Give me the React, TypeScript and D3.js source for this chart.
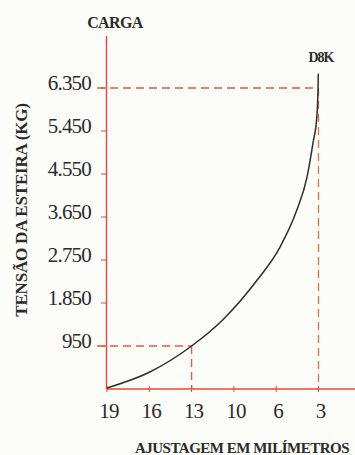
import React from "react";
import * as d3 from "d3";

const categories = ["19", "16", "13", "10", "6", "3"];
const yTicks = [950, 1850, 2750, 3650, 4550, 5450, 6350];
const yTickLabels = ["950", "1.850", "2.750", "3.650", "4.550", "5.450", "6.350"];
// curve: position (index along categories), load in kg
const curveIdx = [0, 1, 2, 2.74, 3.55, 4.09, 4.49, 4.73, 4.87, 4.96, 4.99, 4.995];
const curveVal = [70, 400, 950, 1500, 2330, 3020, 3800, 4490, 5200, 5740, 6370, 6650];
const markers = [
  { cat: "13", value: 950 },
  { cat: "3", value: 6350 },
];

const W = 355;
const H = 455;
const red = "#e8463e";
const dashRed = "#e8583c";
const textCol = "#2b2b2b";
const serif = "Liberation Serif, DejaVu Serif, serif";

export default function App() {
  React.useEffect(() => {
    document.body.style.margin = "0";
  }, []);
  const x0 = 106.5;
  const baseY = 389;
  const idx = d3.scaleLinear().domain([0, categories.length - 1]).range([107, 318.5]);
  const xPos = (c: string) => idx(categories.indexOf(c));
  const y = d3.scaleLinear().domain([50, 6350]).range([baseY, 88]);
  const line = d3
    .line<number>()
    .x((_, i) => idx(curveIdx[i]))
    .y((d) => y(d))
    .curve(d3.curveMonotoneX);

  return (
    <svg width={W} height={H} style={{ position: "absolute", left: 0, top: 0, background: "#fcfcf8" }}>
      {markers.map((m, i) => (
        <g key={i}>
          <line x1={97} x2={xPos(m.cat)} y1={y(m.value)} y2={y(m.value)} stroke={dashRed} strokeWidth={1.3} strokeDasharray="8,5" />
          <line x1={xPos(m.cat)} x2={xPos(m.cat)} y1={y(m.value)} y2={baseY} stroke={i === 1 ? "#e8703f" : dashRed} strokeWidth={1.3} strokeDasharray="8,5" />
        </g>
      ))}
      <line x1={x0} x2={x0} y1={36} y2={baseY} stroke={red} strokeWidth={1.4} />
      <line x1={x0} x2={W} y1={baseY} y2={baseY} stroke={red} strokeWidth={1.4} />
      {yTicks.map((t, i) => (
        <g key={t}>
          <line x1={101} x2={x0} y1={y(t)} y2={y(t)} stroke={red} strokeWidth={1} />
          <text x={91} y={y(t) + 2} textAnchor="end" fontFamily={serif} fontSize={21} fill={textCol} letterSpacing={-0.8}>
            {yTickLabels[i]}
          </text>
        </g>
      ))}
      {categories.map((c) => (
        <g key={c}>
          <line x1={xPos(c)} x2={xPos(c)} y1={baseY - 3} y2={baseY + 3} stroke={red} strokeWidth={1} />
          <text x={xPos(c) + 2} y={418} textAnchor="middle" fontFamily={serif} fontSize={21} fill={textCol} letterSpacing={-0.8}>
            {c}
          </text>
        </g>
      ))}
      <path d={line(curveVal) || ""} fill="none" stroke="#2e2e2e" strokeWidth={1.5} />
      <text x={115} y={28} textAnchor="middle" fontFamily={serif} fontWeight="bold" fontSize={16} fill={textCol} letterSpacing={-0.6}>
        CARGA
      </text>
      <text x={321} y={62} textAnchor="middle" fontFamily={serif} fontWeight="bold" fontSize={14} fill={textCol} letterSpacing={-1}>
        D8K
      </text>
      <text
        transform={`translate(27,210) rotate(-90)`}
        textAnchor="middle"
        fontFamily={serif}
        fontWeight="bold"
        fontSize={17}
        fill={textCol}
        letterSpacing={-0.2}
      >
        TENSÃO DA ESTEIRA (KG)
      </text>
      <text x={242} y={453} textAnchor="middle" fontFamily={serif} fontWeight="bold" fontSize={15} fill={textCol} letterSpacing={-0.5}>
        AJUSTAGEM EM MILÍMETROS
      </text>
    </svg>
  );
}
